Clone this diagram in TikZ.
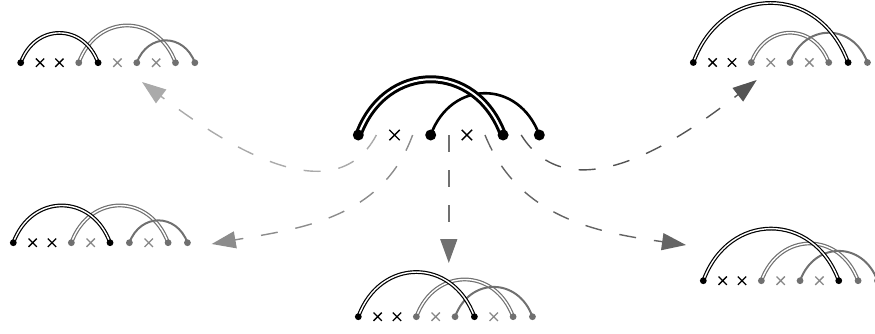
\documentclass[tikz,border=0pt]{standalone}
\usepackage{tikz}
\usetikzlibrary{arrows.meta,positioning,shapes.misc,backgrounds,calc}
\definecolor{chainGray}{RGB}{112,112,112}
\definecolor{crossGray}{RGB}{136,136,136}
\definecolor{flowA}{RGB}{170,170,170}
\definecolor{flowB}{RGB}{140,140,140}
\definecolor{flowC}{RGB}{112,112,112}
\definecolor{flowD}{RGB}{100,100,100}
\definecolor{flowE}{RGB}{84,84,84}

\begin{document}
\begin{tikzpicture}[x=1pt,y=1pt,
  bd/.style={circle,fill=black,inner sep=0pt,minimum size=6.8pt},
  gd/.style={circle,fill=chainGray,inner sep=0pt,minimum size=6.8pt},
  bx/.style={cross out,draw=black,line width=1.3pt,inner sep=0pt,minimum size=7pt},
  gx/.style={cross out,draw=crossGray,line width=1.3pt,inner sep=0pt,minimum size=7pt},
  bigdot/.style={circle,fill=black,inner sep=0pt,minimum size=11pt},
  bigx/.style={cross out,draw=black,line width=1.4pt,inner sep=0pt,minimum size=9pt},
  hop/.style={out=70,in=110,looseness=1.4},
  bdbl/.style={draw=black,line width=1.2pt,double,double distance=1.4pt},
  gdbl/.style={draw=chainGray,line width=1.2pt,double,double distance=1.4pt},
  garc/.style={draw=chainGray,line width=2pt},
  bigdbl/.style={draw=black,line width=3pt,double,double distance=2pt},
  bigarc/.style={draw=black,line width=2.6pt},
  flow/.style={draw=#1,line width=1.4pt,dash pattern=on 17pt off 18pt,-{Triangle[length=24pt,width=17pt]}}
]
\useasboundingbox (0,0) rectangle (875,-333);

% centre chain
\foreach \i/\k in {0/bigdot,1/bigx,2/bigdot,3/bigx,4/bigdot,5/bigdot}
  \node[\k] (c\i) at (358.3+\i*36.2,-135) {};

% top left
\begin{scope}[shift={(20.7,-62.7)}]
\foreach \i/\k in {0/bd,1/bx,2/bx,3/gd,4/bd,5/gx,6/gd,7/gx,8/gd,9/gd}
  \node[\k] (tl\i) at (\i*19.35,0) {};
\end{scope}

% middle left
\begin{scope}[shift={(13.3,-242.7)}]
\foreach \i/\k in {0/bd,1/bx,2/bx,3/gd,4/gx,5/bd,6/gd,7/gx,8/gd,9/gd}
  \node[\k] (ml\i) at (\i*19.35,0) {};
\end{scope}

% bottom centre
\begin{scope}[shift={(358.3,-316.7)}]
\foreach \i/\k in {0/bd,1/bx,2/bx,3/gd,4/gx,5/gd,6/bd,7/gx,8/gd,9/gd}
  \node[\k] (bc\i) at (\i*19.35,0) {};
\end{scope}

% bottom right
\begin{scope}[shift={(703.3,-280.7)}]
\foreach \i/\k in {0/bd,1/bx,2/bx,3/gd,4/gx,5/gd,6/gx,7/bd,8/gd,9/gd}
  \node[\k] (br\i) at (\i*19.35,0) {};
\end{scope}

% top right
\begin{scope}[shift={(693.3,-62.5)}]
\foreach \i/\k in {0/bd,1/bx,2/bx,3/gd,4/gx,5/gd,6/gx,7/gd,8/bd,9/gd}
  \node[\k] (tr\i) at (\i*19.35,0) {};
\end{scope}

\begin{pgfonlayer}{background}
\draw[bigarc] (c2.center) to[hop] (c5.center);
\draw[bigdbl] (c0.center) to[hop] (c4.center);
\draw[gdbl] (tl3.center) to[hop] (tl8.center);
\draw[garc] (tl6.center) to[hop] (tl9.center);
\draw[bdbl] (tl0.center) to[hop] (tl4.center);
\draw[gdbl] (ml3.center) to[hop] (ml8.center);
\draw[garc] (ml6.center) to[hop] (ml9.center);
\draw[bdbl] (ml0.center) to[hop] (ml5.center);
\draw[gdbl] (bc3.center) to[hop] (bc8.center);
\draw[garc] (bc5.center) to[hop] (bc9.center);
\draw[bdbl] (bc0.center) to[hop] (bc6.center);
\draw[gdbl] (br3.center) to[hop] (br8.center);
\draw[garc] (br5.center) to[hop] (br9.center);
\draw[bdbl] (br0.center) to[hop] (br7.center);
\draw[gdbl] (tr3.center) to[hop] (tr7.center);
\draw[garc] (tr5.center) to[hop] (tr9.center);
\draw[bdbl] (tr0.center) to[hop] (tr8.center);
\end{pgfonlayer}

% dashed moves
\coordinate (s1) at ($(c0)!.5!(c1)$);
\coordinate (s2) at ($(c1)!.5!(c2)$);
\coordinate (s3) at ($(c2)!.5!(c3)$);
\coordinate (s4) at ($(c3)!.5!(c4)$);
\coordinate (s5) at ($(c4)!.5!(c5)$);
\coordinate (e1) at (142,-82);
\coordinate (e2) at (211.7,-244);
\coordinate (e3) at ($(s3)+(0,-128)$);
\coordinate (e4) at (686,-245);
\coordinate (e5) at (756.7,-80);
\draw[flow=flowA] (s1) to[out=-118,in=-37] (e1);
\draw[flow=flowB] (s2) to[out=-110,in=10] (e2);
\draw[flow=flowC] (s3) -- (e3);
\draw[flow=flowD] (s4) to[out=-68,in=172] (e4);
\draw[flow=flowE] (s5) to[out=-58,in=-142] (e5);
\end{tikzpicture}
\end{document}
